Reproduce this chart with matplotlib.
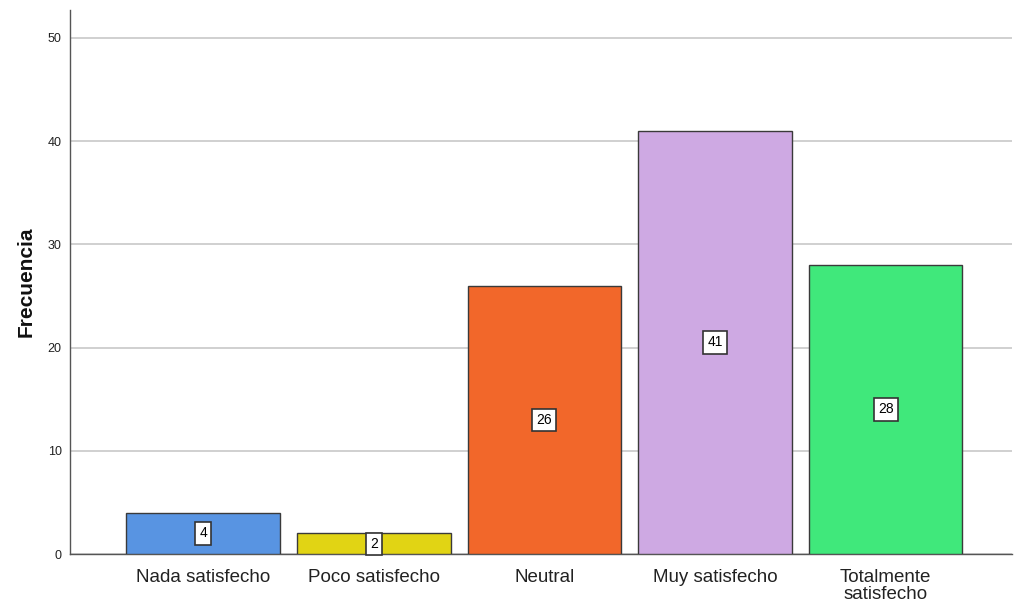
import matplotlib
matplotlib.use("Agg")
import matplotlib.pyplot as plt

categories = ["Nada satisfecho", "Poco satisfecho", "Neutral", "Muy satisfecho", "Totalmente\nsatisfecho"]
values = [4, 2, 26, 41, 28]
colors = ["#5894E2", "#E1D414", "#F2672A", "#CEA9E3", "#40E87B"]
yticks = [0, 10, 20, 30, 40, 50]

plt.rcParams['font.family'] = ['Liberation Sans', 'DejaVu Sans']

fig = plt.figure(figsize=(10.16, 6.09), dpi=100)
ax = fig.add_axes([0.069, 0.0903, 0.927, 0.8933])

x = list(range(len(categories)))
ax.bar(x, values, width=0.9, color=colors, edgecolor="#3a3a3a", linewidth=1.0, zorder=3)
for xi, v in zip(x, values):
    ax.text(xi, v / 2, str(v), ha="center", va="center", fontsize=10, zorder=4,
            bbox=dict(boxstyle="square,pad=0.3", facecolor="white", edgecolor="#333333", linewidth=1.2))

ax.set_xlim(-0.78, 4.74)
ax.set_ylim(0, 52.7)
ax.set_yticks(yticks)
ax.set_xticks(x)
ax.set_xticklabels(categories, fontsize=13.5, color="#222222", linespacing=1.0)
ax.tick_params(axis="y", labelsize=9, length=0, pad=6, colors="#222222")
ax.tick_params(axis="x", length=0, pad=11)
ax.yaxis.grid(True, color="#c8c8c8", linewidth=1.2, zorder=0)
ax.set_axisbelow(True)
for s in ["top", "right"]:
    ax.spines[s].set_visible(False)
for s in ["left", "bottom"]:
    ax.spines[s].set_color("#555555")
    ax.spines[s].set_linewidth(1.0)
ax.set_ylabel("Frecuencia", fontsize=15, fontweight="bold", labelpad=9, color="#111111")

fig.savefig("out.png", dpi=100)
